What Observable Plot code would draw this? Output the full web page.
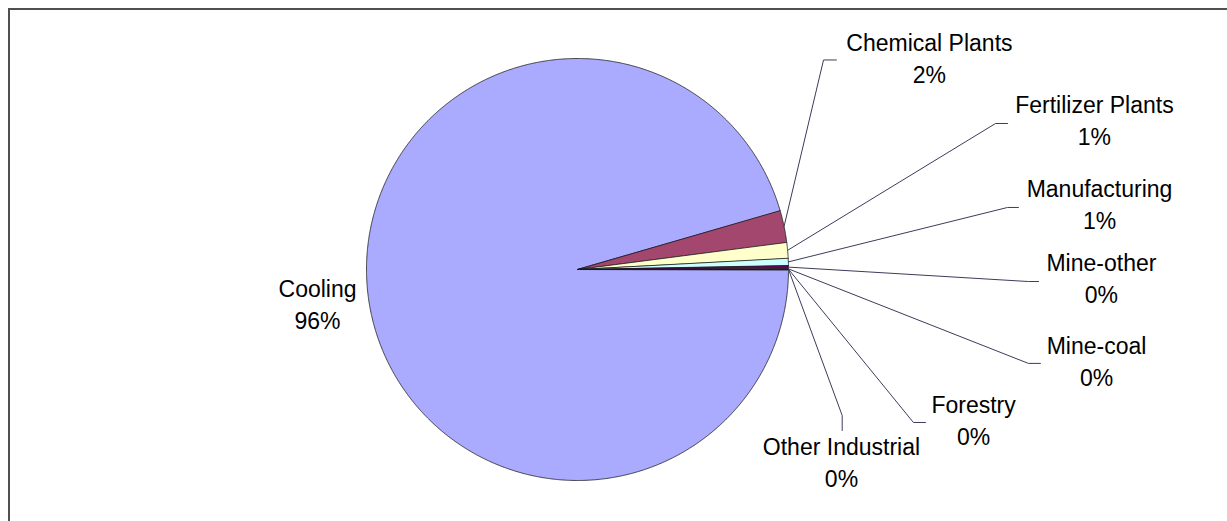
<!DOCTYPE html>
<html>
<head>
<meta charset="utf-8">
<script src="https://cdn.jsdelivr.net/npm/d3@7"></script>
<script src="https://cdn.jsdelivr.net/npm/@observablehq/plot@0.6"></script>
<style>
  html, body { margin: 0; padding: 0; background: #fff; }
  #chart { position: relative; width: 1227px; height: 521px; overflow: hidden; }
  #chart .edge { position: absolute; left: 8px; top: 8px; right: -20px; bottom: -20px;
    border-top: 2px solid #505050; border-left: 2px solid #505050; pointer-events: none; }
</style>
</head>
<body>
<div id="chart"><div class="edge"></div></div>
<script>
// Water withdrawals by use, share of total (%)
const categories = ["Cooling", "Chemical Plants", "Fertilizer Plants", "Manufacturing",
                    "Mine-other", "Mine-coal", "Forestry", "Other Industrial"];
const shares = [95.5, 2.45, 1.2, 0.55, 0.24, 0.03, 0.02, 0.01];
const colors = ["#aaaaff", "#a4476f", "#ffffcc", "#ccffff", "#660066", "#ff8080", "#0066cc", "#ccccff"];

// Label placement in pie-radius units (origin at pie centre, y up):
// elbow / tail of the leader line and the text block (centre x, last baseline y).
const labelElbow = [null, [1.166, 0.993], [1.981, 0.692], [2.038, 0.294], [2.137, -0.057], [2.137, -0.445], [1.592, -0.725], [1.2545, -0.692]];
const labelTail  = [null, [1.227, 0.993], [2.038, 0.692], [2.090, 0.294], [2.185, -0.057], [2.194, -0.445], [1.649, -0.725], [1.2545, -0.763]];
const labelText  = [[-1.232, -0.284], [1.668, 0.882], [2.450, 0.588], [2.474, 0.190], [2.483, -0.161], [2.460, -0.550], [1.877, -0.834], [1.251, -1.033]];

// canvas and pie geometry
const W = 1227, H = 521, R = 211, CX = 577, CY = 269;
const fontSize = 23, lineGap = 32;

const rows = categories.map((name, i) => ({name, share: shares[i], i}));

// slices run clockwise starting at three o'clock
const arcs = d3.pie().sort(null).value(d => d.share)
  .startAngle(Math.PI / 2).endAngle(Math.PI / 2 + 2 * Math.PI)(rows);

const slicePts = arcs.flatMap(a => {
  const n = Math.max(2, Math.ceil((a.endAngle - a.startAngle) / (Math.PI / 720)));
  const pts = [{name: a.data.name, x: 0, y: 0}];
  for (let k = 0; k <= n; ++k) {
    const t = a.startAngle + (a.endAngle - a.startAngle) * k / n;
    pts.push({name: a.data.name, x: Math.sin(t), y: Math.cos(t)});
  }
  return pts;
});

// leader lines: from the middle of each slice's rim to the label
const leaderPts = arcs.flatMap(a => {
  const i = a.data.i;
  if (!labelElbow[i]) return [];
  const m = (a.startAngle + a.endAngle) / 2;
  return [
    {name: a.data.name, x: Math.sin(m), y: Math.cos(m)},
    {name: a.data.name, x: labelElbow[i][0], y: labelElbow[i][1]},
    {name: a.data.name, x: labelTail[i][0], y: labelTail[i][1]}
  ];
});

const labels = rows.map(d => ({
  x: labelText[d.i][0],
  y: labelText[d.i][1],
  text: `${d.name}\n${Math.round(d.share)}%`
}));

const chart = Plot.plot({
  width: W,
  height: H,
  margin: 0,
  x: {type: "linear", domain: [-CX / R, (W - CX) / R], range: [0, W], axis: null},
  y: {type: "linear", domain: [(CY - H) / R, CY / R], range: [H, 0], axis: null},
  color: {domain: categories, range: colors},
  style: {fontFamily: "Arial, 'Liberation Sans', sans-serif", background: "transparent"},
  marks: [
    Plot.line(slicePts, {x: "x", y: "y", z: "name", fill: "name", stroke: "#1a1a1a",
      strokeWidth: 0.8, strokeLinejoin: "round", curve: "linear-closed"}),
    Plot.line(leaderPts, {x: "x", y: "y", z: "name", stroke: "#3c3c5c", strokeWidth: 1}),
    Plot.text(labels, {x: "x", y: "y", text: "text", textAnchor: "middle", lineAnchor: "bottom",
      lineHeight: lineGap / fontSize, fontSize, fill: "#000"})
  ]
});

document.getElementById("chart").prepend(chart);
</script>
</body>
</html>
